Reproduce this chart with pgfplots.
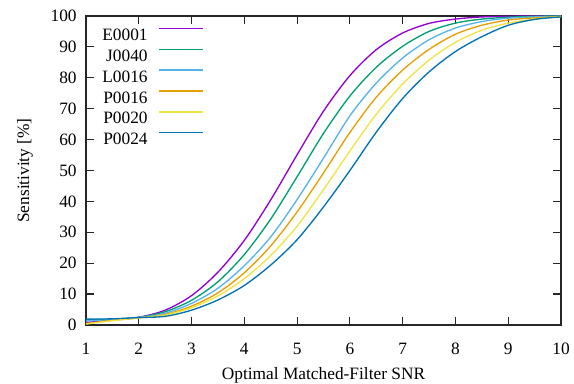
\documentclass[border=0pt]{standalone}
\usepackage{pgfplots}
\pgfplotsset{compat=1.18}
\usepackage{pgfplotstable}
\usepackage{fontspec}
\setmainfont{Liberation Serif}
\definecolor{cE}{RGB}{148,0,211}
\definecolor{cJ}{RGB}{0,158,115}
\definecolor{cL}{RGB}{86,180,233}
\definecolor{cPa}{RGB}{230,159,0}
\definecolor{cPb}{RGB}{240,228,66}
\definecolor{cPc}{RGB}{0,114,178}
\pgfplotstableread{
x y
1 0.8
1.5 1.6
2 2.5
2.5 4.8
3 9.5
3.5 17.1
4 27.4
4.5 40.5
5 55.1
5.5 69.2
6 80.7
6.5 89.1
7 94.5
7.5 97.6
8 99.0
8.5 99.7
9 99.9
9.5 100
10 100
}\tE
\pgfplotstableread{
x y
1 1.6
1.5 1.9
2 2.5
2.5 4.3
3 8.0
3.5 14.0
4 22.8
4.5 34.3
5 48.0
5.5 62.0
6 74.1
6.5 83.4
7 90.2
7.5 95.0
8 97.7
8.5 99.0
9 99.6
9.5 99.9
10 100
}\tJ
\pgfplotstableread{
x y
1 1.3
1.5 1.8
2 2.4
2.5 3.8
3 7.0
3.5 11.9
4 19.2
4.5 28.5
5 40.6
5.5 54.0
6 67.7
6.5 78.3
7 86.4
7.5 92.3
8 96.1
8.5 98.2
9 99.3
9.5 99.7
10 99.9
}\tL
\pgfplotstableread{
x y
1 0.5
1.5 1.5
2 2.3
2.5 3.4
3 6.1
3.5 10.4
4 16.9
4.5 25.6
5 36.6
5.5 49.2
6 62.3
6.5 73.7
7 82.5
7.5 89.2
8 94.1
8.5 97.0
9 98.7
9.5 99.4
10 99.8
}\tPa
\pgfplotstableread{
x y
1 0.3
1.5 1.4
2 2.3
2.5 3.2
3 5.6
3.5 9.4
4 15.0
4.5 22.5
5 32.0
5.5 43.8
6 56.3
6.5 68.2
7 78.0
7.5 85.7
8 91.5
8.5 95.4
9 97.7
9.5 99.0
10 99.8
}\tPb
\pgfplotstableread{
x y
1 1.9
1.5 2.0
2 2.4
2.5 2.8
3 4.8
3.5 8.1
4 12.8
4.5 19.4
5 27.6
5.5 38.2
6 50.0
6.5 62.4
7 73.3
7.5 81.9
8 88.5
8.5 93.3
9 97.0
9.5 98.9
10 99.7
}\tPc
\begin{document}
\fontsize{13pt}{15pt}\selectfont
\begin{tikzpicture}
\path[use as bounding box] (-64.5pt,-44.25pt) rectangle (366pt,243.75pt);
\begin{axis}[
  scale only axis,
  width=356.25pt, height=231.75pt,
  xmin=1, xmax=10, ymin=0, ymax=100,
  xtick={1,2,...,10}, ytick={0,10,...,100},
  tick align=inside,
  major tick length=6pt,
  axis line style={black!85, line width=0.9pt},
  every tick/.style={black!85, line width=0.9pt},
  /pgf/number format/assume math mode=true,
  ticklabel style={font=\fontsize{13pt}{15pt}\selectfont},
  xticklabel style={yshift=-9.25pt},
  yticklabel style={xshift=-2.5pt},
  label style={font=\fontsize{13pt}{15pt}\selectfont},
  xlabel={Optimal Matched-Filter SNR},
  ylabel={Sensitivity [\%]},
  every axis x label/.style={at={(axis description cs:0.5,-0.1618)}, anchor=center},
  every axis y label/.style={at={(axis description cs:-0.1284,0.5)}, rotate=90, anchor=center},
  legend cell align=right,
  legend plot pos=right,
  legend image code/.code={\draw[#1] (0pt,4.5pt) -- (33pt,4.5pt);},
  legend style={draw=none, fill=none, inner sep=0pt, outer sep=0pt,
    at={(axis description cs:0.2484,0.962)}, anchor=north east,
    font=\fontsize{13pt}{15pt}\selectfont,
    nodes={inner sep=0pt, text height=9pt, text depth=0pt},
    row sep=6.15pt, column sep=8.25pt},
  every axis plot/.append style={line width=1pt, smooth},
]
\addplot[cE, no markers] table {\tE};
\addlegendentry{E0001}
\addplot[cJ, no markers] table {\tJ};
\addlegendentry{J0040}
\addplot[cL, no markers] table {\tL};
\addlegendentry{L0016}
\addplot[cPa, no markers] table {\tPa};
\addlegendentry{P0016}
\addplot[cPb, no markers] table {\tPb};
\addlegendentry{P0020}
\addplot[cPc, no markers] table {\tPc};
\addlegendentry{P0024}
\end{axis}
\end{tikzpicture}
\end{document}
